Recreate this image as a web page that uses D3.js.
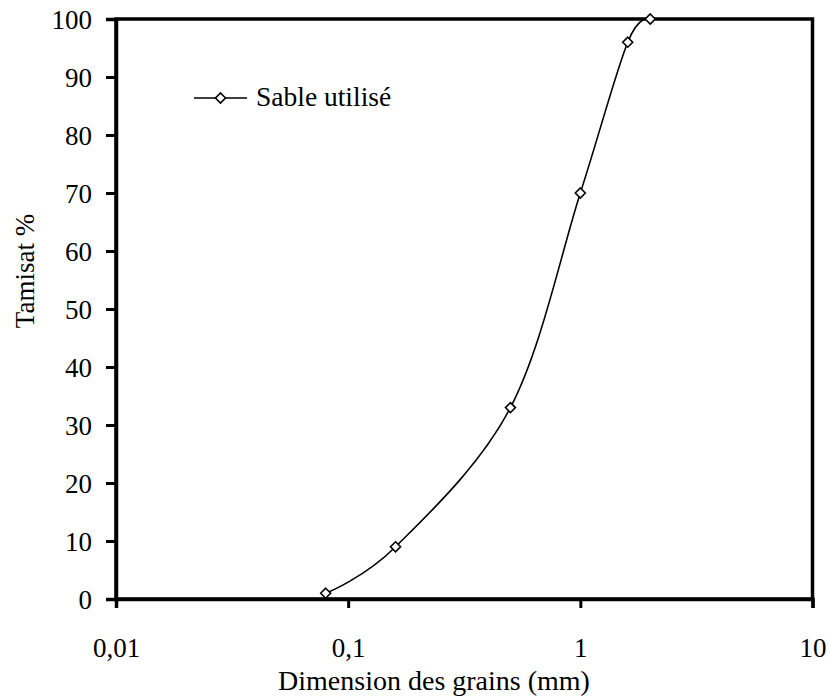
<!DOCTYPE html>
<html><head><meta charset="utf-8">
<script src="https://cdn.jsdelivr.net/npm/d3@7/dist/d3.min.js"></script>
<style>body{margin:0;background:#fff}svg{display:block}</style>
</head><body><svg id="c" width="829" height="697"></svg>
<script>
const sizes = [0.08, 0.16, 0.5, 1, 1.6, 2];
const passing = [1, 9, 33, 70, 96, 100];
const xTicks = [0.01, 0.1, 1, 10];
const xTickLabels = ["0,01", "0,1", "1", "10"];
const yTicks = [0,10,20,30,40,50,60,70,80,90,100];
const seriesName = "Sable utilisé";
const xTitle = "Dimension des grains (mm)";
const yTitle = "Tamisat %";

const FONT = "'Liberation Serif'";
const svg = d3.select("#c");
const L=116, R=812.5, T=19, B=599;
const x = d3.scaleLog().domain([0.01,10]).range([L,R]);
const y = d3.scaleLinear().domain([0,100]).range([B,T]);
const fs = 27;

svg.append("rect").attr("x",L).attr("y",T).attr("width",R-L).attr("height",B-T)
  .attr("fill","none").attr("stroke","#000").attr("stroke-width",3.5);

const yAxis = d3.axisLeft(y).tickValues(yTicks).tickSize(10).tickPadding(14).tickFormat(d=>d);
const gy = svg.append("g").attr("transform",`translate(${L},0)`).call(yAxis);
gy.attr("font-family",FONT).attr("font-size",fs);
gy.select(".domain").attr("stroke-width",3.5);
gy.selectAll(".tick line").attr("stroke-width",3);
gy.selectAll(".tick text").style("font-family",FONT).style("font-size",fs+"px").attr("dy","0.34em");

const xAxis = d3.axisBottom(x).tickValues(xTicks).tickSize(9).tickPadding(30).tickFormat((d,i)=>xTickLabels[i]);
const gx = svg.append("g").attr("transform",`translate(0,${B})`).call(xAxis);
gx.attr("font-family",FONT).attr("font-size",fs);
gx.select(".domain").attr("stroke-width",3.5);
gx.selectAll(".tick line").attr("stroke-width",3);
gx.selectAll(".tick text").style("font-family",FONT).style("font-size",fs+"px").attr("dy","0.71em");

const pts = sizes.map((s,i)=>[x(s), y(passing[i])]);
svg.append("path").attr("d", d3.line().curve(d3.curveCardinal.tension(0))(pts))
  .attr("fill","none").attr("stroke","#000").attr("stroke-width",1.6);
const diamond = (cx,cy,r)=>`M${cx},${cy-r}L${cx+r},${cy}L${cx},${cy+r}L${cx-r},${cy}Z`;
svg.selectAll("path.m").data(pts).join("path").attr("class","m")
  .attr("d",d=>diamond(d[0],d[1],5)).attr("fill","#fff").attr("stroke","#000").attr("stroke-width",1.6);

svg.append("line").attr("x1",194).attr("x2",247).attr("y1",98).attr("y2",98).attr("stroke","#000").attr("stroke-width",1.6);
svg.append("path").attr("d",diamond(220.5,98,5)).attr("fill","#fff").attr("stroke","#000").attr("stroke-width",1.6);
svg.append("text").attr("x",256).attr("y",106).style("font-family",FONT).style("font-size","27.5px").text(seriesName);

svg.append("text").attr("x",434).attr("y",690).attr("text-anchor","middle").style("font-family",FONT).style("font-size","28px").text(xTitle);
svg.append("text").attr("transform","translate(34,271) rotate(-90)").attr("text-anchor","middle").style("font-family",FONT).style("font-size",fs+"px").text(yTitle);
</script></body></html>
